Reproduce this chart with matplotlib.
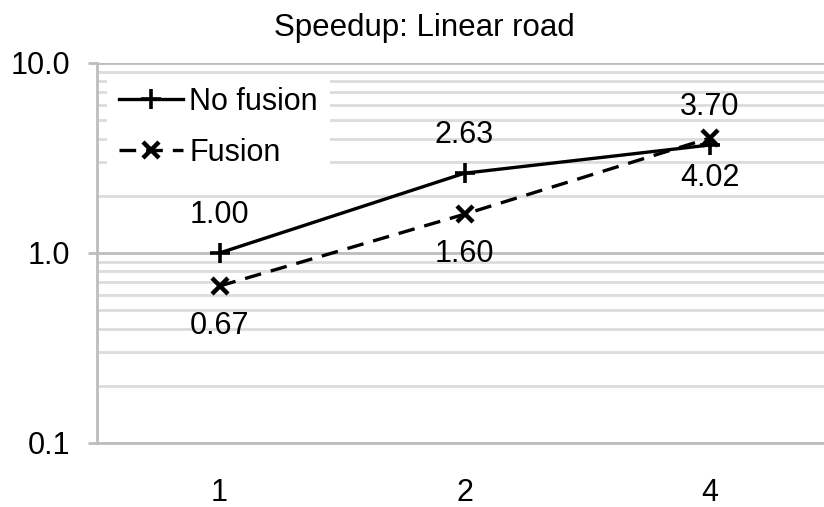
import matplotlib
matplotlib.use("Agg")
import matplotlib.pyplot as plt
from matplotlib.ticker import LogLocator, NullFormatter, FixedLocator, FixedFormatter

plt.rcParams['font.family'] = ['Liberation Sans', 'DejaVu Sans']

# data
threads = ["1", "2", "4"]
no_fusion = [1.00, 2.63, 3.70]
fusion = [0.67, 1.60, 4.02]
no_fusion_lbl = ["1.00", "2.63", "3.70"]
fusion_lbl = ["0.67", "1.60", "4.02"]

FS = 22

fig = plt.figure(figsize=(8.24, 5.07), dpi=100)
ax = fig.add_axes([97 / 824, 1 - 443 / 507, (832 - 97) / 824, (443 - 63) / 507])

xs = range(len(threads))
ax.plot(xs, no_fusion, color="black", lw=2.4, marker="+", ms=15, mew=2.6,
        label="No fusion", zorder=5)
ax.plot(xs, fusion, color="black", lw=2.4, ls=(0, (5, 3)), marker="x", ms=11, mew=3.2,
        label="Fusion", zorder=5)

ax.set_yscale("log")
ax.set_ylim(0.1, 10)
ax.set_xlim(-0.5, 2.5)

ax.yaxis.set_major_locator(FixedLocator([0.1, 1, 10]))
ax.yaxis.set_major_formatter(FixedFormatter(["0.1", "1.0", "10.0"]))
ax.yaxis.set_minor_locator(LogLocator(base=10, subs=range(2, 10)))
ax.yaxis.set_minor_formatter(NullFormatter())
ax.set_xticks(list(xs))
ax.set_xticklabels(threads)

ax.grid(True, which="major", axis="y", color="#bdbdbd", lw=2)
ax.grid(True, which="minor", axis="y", color="#dcdcdc", lw=2)
ax.set_axisbelow(True)

for s in ["top", "right"]:
    ax.spines[s].set_visible(False)
for s in ["left", "bottom"]:
    ax.spines[s].set_color("#bdbdbd")
    ax.spines[s].set_linewidth(2)

ax.tick_params(axis="y", which="major", length=6.5, width=2, color="#bdbdbd",
               labelsize=FS, pad=13)
ax.tick_params(axis="y", which="minor", length=0)
ax.tick_params(axis="x", length=0, labelsize=FS, pad=25.5)

# value labels
for i, (v, t) in enumerate(zip(no_fusion, no_fusion_lbl)):
    ax.annotate(t, (i, v), xytext=(0, 27.5), textcoords="offset points",
                ha="center", va="center", fontsize=FS)
for i, (v, t) in enumerate(zip(fusion, fusion_lbl)):
    ax.annotate(t, (i, v), xytext=(0, -28.5), textcoords="offset points",
                ha="center", va="center", fontsize=FS)

leg = ax.legend(loc="upper left", bbox_to_anchor=(0.0136, 0.970), borderaxespad=0,
                fontsize=FS, frameon=True, fancybox=False, edgecolor="none",
                framealpha=1, handlelength=2.1, handletextpad=0.2,
                labelspacing=0.7, borderpad=0.4)
leg.set_zorder(10)

fig.text(424 / 824, 1 - 36 / 507, "Speedup: Linear road", ha="center", va="baseline",
         fontsize=22.5)

fig.savefig("out.png", dpi=100)
